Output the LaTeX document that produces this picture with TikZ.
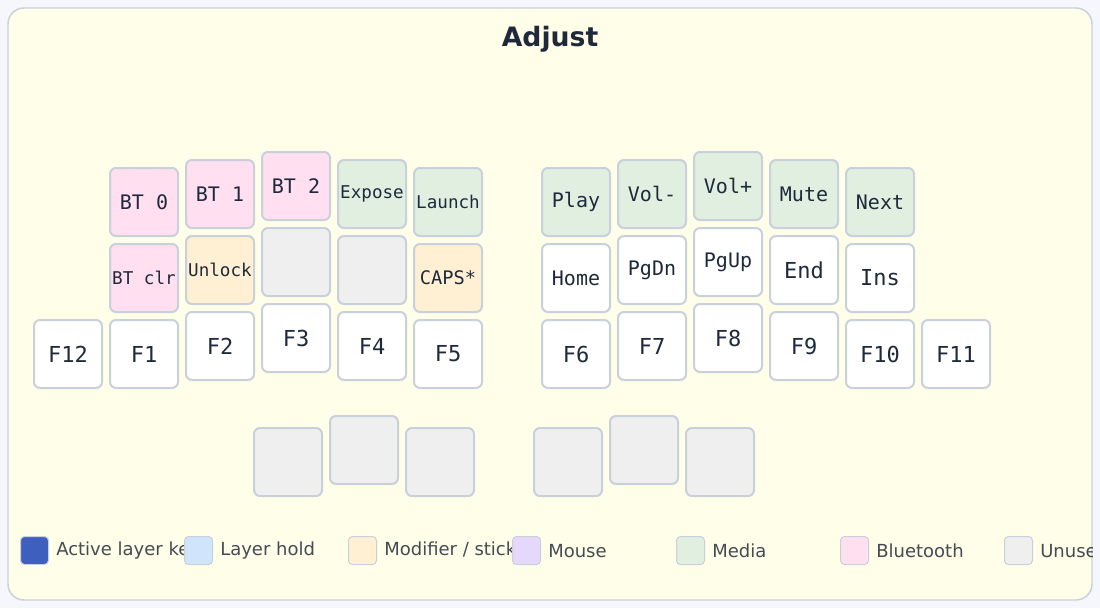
\documentclass[tikz,border=0pt]{standalone}
\usepackage{fontspec}
\setmainfont{DejaVu Sans}
\setmonofont{DejaVu Sans Mono}
\begin{document}
\begin{tikzpicture}[x=0.75pt,y=-0.75pt,
  key/.style={draw=keyb,line width=1.5pt,rounded corners=4.5pt,minimum width=51pt,minimum height=51pt,inner sep=0pt,anchor=north west,text=ink,font=\ttfamily},
  sw/.style={draw=keyb,line width=0.75pt,rounded corners=3pt,minimum size=21pt,inner sep=0pt,anchor=north west},
  lg/.style={anchor=west,text=lgt,font=\fontsize{13.5}{16}\selectfont,inner sep=0pt},
  fA/.style={font=\ttfamily\fontsize{16.5}{18}\selectfont},
  fB/.style={font=\ttfamily\fontsize{15}{18}\selectfont},
  fC/.style={font=\ttfamily\fontsize{14}{16}\selectfont},
  fD/.style={font=\ttfamily\fontsize{13.2}{15}\selectfont}]
\definecolor{bgc}{HTML}{F5F7FC}
\definecolor{pan}{HTML}{FFFEE8}
\definecolor{keyb}{HTML}{C8D0DC}
\definecolor{ink}{HTML}{1E2A3C}
\definecolor{lgt}{HTML}{444B55}
\definecolor{pk}{HTML}{FFDFF0}
\definecolor{gr}{HTML}{E0EFE0}
\definecolor{orc}{HTML}{FFF0D4}
\definecolor{gy}{HTML}{EFEFEF}
\definecolor{bl}{HTML}{3F5FBF}
\definecolor{lb}{HTML}{D0E4FC}
\definecolor{pu}{HTML}{E6D8FC}
\fill[bgc] (0,0) rectangle (1100,608);
\useasboundingbox (0,0) rectangle (1100,608);
\draw[keyb,fill=pan,line width=1.1pt,rounded corners=12pt] (8,8) rectangle (1092,600);
\node[text=ink,font=\bfseries\fontsize{20}{22}\selectfont] (title) at (550,39) {Adjust};
% left half
\node[key,fill=white,fA] (f12) at (33,319) {F12};
\node[key,fill=pk,fB] (bt0) at (109,167) {BT 0};
\node[key,fill=pk,fD] (btc) at (109,243) {BT clr};
\node[key,fill=white,fA] (f1) at (109,319) {F1};
\node[key,fill=pk,fB] (bt1) at (185,159) {BT 1};
\node[key,fill=orc,fD] (unl) at (185,235) {Unlock};
\node[key,fill=white,fA] (f2) at (185,311) {F2};
\node[key,fill=pk,fB] (bt2) at (261,151) {BT 2};
\node[key,fill=gy] (e1) at (261,227) {};
\node[key,fill=white,fA] (f3) at (261,303) {F3};
\node[key,fill=gr,fD] (exp) at (337,159) {Expose};
\node[key,fill=gy] (e2) at (337,235) {};
\node[key,fill=white,fA] (f4) at (337,311) {F4};
\node[key,fill=gr,fD] (lau) at (413,167) {Launch};
\node[key,fill=orc,fC] (caps) at (413,243) {CAPS*};
\node[key,fill=white,fA] (f5) at (413,319) {F5};
% right half
\node[key,fill=gr,fB] (play) at (541,167) {Play};
\node[key,fill=white,fB] (home) at (541,243) {Home};
\node[key,fill=white,fA] (f6) at (541,319) {F6};
\node[key,fill=gr,fB] (vm) at (617,159) {Vol-};
\node[key,fill=white,fB] (pgdn) at (617,235) {PgDn};
\node[key,fill=white,fA] (f7) at (617,311) {F7};
\node[key,fill=gr,fB] (vp) at (693,151) {Vol+};
\node[key,fill=white,fB] (pgup) at (693,227) {PgUp};
\node[key,fill=white,fA] (f8) at (693,303) {F8};
\node[key,fill=gr,fB] (mute) at (769,159) {Mute};
\node[key,fill=white,fA] (end) at (769,235) {End};
\node[key,fill=white,fA] (f9) at (769,311) {F9};
\node[key,fill=gr,fB] (next) at (845,167) {Next};
\node[key,fill=white,fA] (ins) at (845,243) {Ins};
\node[key,fill=white,fA] (f10) at (845,319) {F10};
\node[key,fill=white,fA] (f11) at (921,319) {F11};
% thumbs
\node[key,fill=gy] (t1) at (253,427) {};
\node[key,fill=gy] (t2) at (329,415) {};
\node[key,fill=gy] (t3) at (405,427) {};
\node[key,fill=gy] (t4) at (533,427) {};
\node[key,fill=gy] (t5) at (609,415) {};
\node[key,fill=gy] (t6) at (685,427) {};
% legend
\begin{scope}
\clip[rounded corners=12pt] (8,8) rectangle (1092,599);
\node[sw,fill=bl] (s1) at (20,536) {};
\node[lg] (l1) at (56,551) {Active layer key};
\node[sw,fill=lb] (s2) at (184,536) {};
\node[lg] (l2) at (220,551) {Layer hold};
\node[sw,fill=orc] (s3) at (348,536) {};
\node[lg] (l3) at (384,551) {Modifier / sticky};
\node[sw,fill=pu] (s4) at (512,536) {};
\node[lg] (l4) at (548,551) {Mouse};
\node[sw,fill=gr] (s5) at (676,536) {};
\node[lg] (l5) at (712,551) {Media};
\node[sw,fill=pk] (s6) at (840,536) {};
\node[lg] (l6) at (876,551) {Bluetooth};
\node[sw,fill=gy] (s7) at (1004,536) {};
\node[lg] (l7) at (1040,551) {Unused};
\end{scope}
\end{tikzpicture}
\end{document}
